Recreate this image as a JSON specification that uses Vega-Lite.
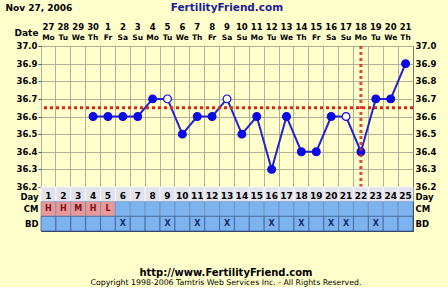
{
  "$schema": "https://vega.github.io/schema/vega-lite/v6.json",
  "background": "#ffffcc",
  "padding": {"left": 5, "right": 5, "top": 2, "bottom": 0},
  "spacing": 0,
  "bounds": "flush",
  "datasets": {
    "days": [
      {"day": 1, "date": "27", "dow": "Mo", "cm": "H", "bd": ""},
      {"day": 2, "date": "28", "dow": "Tu", "cm": "H", "bd": ""},
      {"day": 3, "date": "29", "dow": "We", "cm": "M", "bd": ""},
      {"day": 4, "date": "30", "dow": "Th", "cm": "H", "bd": ""},
      {"day": 5, "date": "1", "dow": "Fr", "cm": "L", "bd": ""},
      {"day": 6, "date": "2", "dow": "Sa", "cm": "", "bd": "X"},
      {"day": 7, "date": "3", "dow": "Su", "cm": "", "bd": ""},
      {"day": 8, "date": "4", "dow": "Mo", "cm": "", "bd": ""},
      {"day": 9, "date": "5", "dow": "Tu", "cm": "", "bd": "X"},
      {"day": 10, "date": "6", "dow": "We", "cm": "", "bd": ""},
      {"day": 11, "date": "7", "dow": "Th", "cm": "", "bd": "X"},
      {"day": 12, "date": "8", "dow": "Fr", "cm": "", "bd": ""},
      {"day": 13, "date": "9", "dow": "Sa", "cm": "", "bd": "X"},
      {"day": 14, "date": "10", "dow": "Su", "cm": "", "bd": ""},
      {"day": 15, "date": "11", "dow": "Mo", "cm": "", "bd": ""},
      {"day": 16, "date": "12", "dow": "Tu", "cm": "", "bd": "X"},
      {"day": 17, "date": "13", "dow": "We", "cm": "", "bd": ""},
      {"day": 18, "date": "14", "dow": "Th", "cm": "", "bd": "X"},
      {"day": 19, "date": "15", "dow": "Fr", "cm": "", "bd": ""},
      {"day": 20, "date": "16", "dow": "Sa", "cm": "", "bd": "X"},
      {"day": 21, "date": "17", "dow": "Su", "cm": "", "bd": "X"},
      {"day": 22, "date": "18", "dow": "Mo", "cm": "", "bd": ""},
      {"day": 23, "date": "19", "dow": "Tu", "cm": "", "bd": "X"},
      {"day": 24, "date": "20", "dow": "We", "cm": "", "bd": ""},
      {"day": 25, "date": "21", "dow": "Th", "cm": "", "bd": ""}
    ],
    "temps": [
      {"day": 4, "temp": 36.6, "kind": "normal"},
      {"day": 5, "temp": 36.6, "kind": "normal"},
      {"day": 6, "temp": 36.6, "kind": "normal"},
      {"day": 7, "temp": 36.6, "kind": "normal"},
      {"day": 8, "temp": 36.7, "kind": "normal"},
      {"day": 9, "temp": 36.7, "kind": "open"},
      {"day": 10, "temp": 36.5, "kind": "normal"},
      {"day": 11, "temp": 36.6, "kind": "normal"},
      {"day": 12, "temp": 36.6, "kind": "normal"},
      {"day": 13, "temp": 36.7, "kind": "open"},
      {"day": 14, "temp": 36.5, "kind": "normal"},
      {"day": 15, "temp": 36.6, "kind": "normal"},
      {"day": 16, "temp": 36.3, "kind": "normal"},
      {"day": 17, "temp": 36.6, "kind": "normal"},
      {"day": 18, "temp": 36.4, "kind": "normal"},
      {"day": 19, "temp": 36.4, "kind": "normal"},
      {"day": 20, "temp": 36.6, "kind": "normal"},
      {"day": 21, "temp": 36.6, "kind": "open"},
      {"day": 22, "temp": 36.4, "kind": "normal"},
      {"day": 23, "temp": 36.7, "kind": "normal"},
      {"day": 24, "temp": 36.7, "kind": "normal"},
      {"day": 25, "temp": 36.9, "kind": "normal"}
    ]
  },
  "title": {
    "text": "http://www.FertilityFriend.com",
    "subtitle": "Copyright 1998-2006 Tamtris Web Services Inc. - All Rights Reserved.",
    "orient": "bottom",
    "anchor": "middle",
    "frame": "bounds",
    "offset": 36,
    "font": "DejaVu Sans",
    "fontSize": 10,
    "fontWeight": "bold",
    "color": "#000000",
    "subtitleFont": "DejaVu Sans",
    "subtitleFontSize": 7.8,
    "subtitleColor": "#000000",
    "subtitlePadding": 1
  },
  "vconcat": [
    {
      "width": 372,
      "height": 44,
      "view": {"stroke": null},
      "data": {"name": "days"},
      "layer": [
        {
          "mark": {"type": "text", "baseline": "middle", "dy": -8, "fontSize": 8.5},
          "encoding": {
            "x": {"field": "day", "type": "ordinal", "scale": {"domain": [1,2,3,4,5,6,7,8,9,10,11,12,13,14,15,16,17,18,19,20,21,22,23,24,25], "paddingInner": 0, "paddingOuter": 0}, "axis": null},
            "y": {"datum": "Date", "type": "nominal", "scale": {"type": "band", "domain": ["top", "Date"], "paddingInner": 0, "paddingOuter": 0},
                  "axis": {"orient": "left", "title": null, "ticks": false, "labelPadding": 3, "labelOffset": -2, "labelExpr": "datum.value == 'Date' ? 'Date' : ''", "minExtent": 33, "maxExtent": 33}},
            "text": {"field": "date"}
          }
        },
        {
          "mark": {"type": "text", "baseline": "middle", "dy": 3, "fontSize": 7.5},
          "encoding": {
            "x": {"field": "day", "type": "ordinal", "axis": null},
            "y": {"datum": "Date", "type": "nominal"},
            "text": {"field": "dow"}
          }
        },
        {
          "data": {"values": [{"day": 1, "label": "Nov 27, 2006"}]},
          "mark": {"type": "text", "align": "left", "baseline": "middle", "dx": -43, "dy": -5},
          "encoding": {
            "x": {"field": "day", "type": "ordinal", "axis": null},
            "y": {"datum": "top", "type": "nominal"},
            "text": {"field": "label"}
          }
        },
        {
          "data": {"values": [{"day": 13, "label": "FertilityFriend.com"}]},
          "mark": {"type": "text", "align": "center", "baseline": "middle", "dy": -5, "color": "#1c1c9c", "fontSize": 10.5},
          "encoding": {
            "x": {"field": "day", "type": "ordinal", "axis": null},
            "y": {"datum": "top", "type": "nominal"},
            "text": {"field": "label"}
          }
        }
      ]
    },
    {
      "width": 372,
      "height": 141,
      "data": {"name": "temps"},
      "layer": [
        {
          "mark": {"type": "line", "color": "#2222d4", "strokeWidth": 2},
          "encoding": {
            "x": {"field": "day", "type": "ordinal", "scale": {"domain": [1,2,3,4,5,6,7,8,9,10,11,12,13,14,15,16,17,18,19,20,21,22,23,24,25], "paddingInner": 0, "paddingOuter": 0},
                  "axis": {"orient": "top", "labels": false, "ticks": false, "domain": false, "grid": true, "bandPosition": 0, "title": null}},
            "y": {"field": "temp", "type": "quantitative", "scale": {"domain": [36.2, 37.0], "nice": false, "zero": false},
                  "axis": {"orient": "left", "values": [36.2, 36.3, 36.4, 36.5, 36.6, 36.7, 36.8, 36.9, 37.0], "format": ".1f", "title": null, "grid": true, "tickSize": 3, "labelPadding": 1, "labelFontSize": 8.5, "labelOffset": -0.5, "minExtent": 33, "maxExtent": 33}}
          }
        },
        {
          "mark": {"type": "point", "shape": "circle", "size": 60, "strokeWidth": 1.2, "stroke": "#0a0ae6", "opacity": 1},
          "encoding": {
            "x": {"field": "day", "type": "ordinal",
                  "axis": {"orient": "top", "labels": false, "ticks": false, "domain": false, "grid": true, "bandPosition": 0, "title": null}},
            "y": {"field": "temp", "type": "quantitative",
                  "axis": {"orient": "right", "values": [36.2, 36.3, 36.4, 36.5, 36.6, 36.7, 36.8, 36.9, 37.0], "format": ".1f", "title": null, "grid": false, "ticks": false, "labelPadding": 2, "labelFontSize": 8.5, "labelOffset": -0.5, "minExtent": 33, "maxExtent": 33}},
            "fill": {"condition": {"test": "datum.kind == 'open'", "value": "#ffffff"}, "value": "#0a0ae6"}
          }
        },
        {
          "data": {"values": [{"cover": 36.65}]},
          "mark": {"type": "rule", "color": "#d42a1e", "strokeWidth": 3, "strokeDash": [3, 3]},
          "encoding": {"y": {"field": "cover", "type": "quantitative", "axis": null}}
        },
        {
          "data": {"values": [{"ovday": 22}]},
          "mark": {"type": "rule", "color": "#d42a1e", "strokeWidth": 3, "strokeDash": [3, 3], "opacity": 0.85},
          "encoding": {"x": {"field": "ovday", "type": "ordinal",
                  "axis": {"orient": "top", "labels": false, "ticks": false, "domain": false, "grid": true, "bandPosition": 0, "title": null}}}
        }
      ],
      "resolve": {"axis": {"y": "independent"}}
    },
    {
      "width": 372,
      "height": 44,
      "view": {"stroke": "#2a3a60"},
      "data": {"name": "days"},
      "layer": [
        {
          "mark": {"type": "rect", "fill": "#e2e2ec", "stroke": "#f4f4fa", "strokeWidth": 1},
          "encoding": {
            "x": {"field": "day", "type": "ordinal", "scale": {"domain": [1,2,3,4,5,6,7,8,9,10,11,12,13,14,15,16,17,18,19,20,21,22,23,24,25], "paddingInner": 0, "paddingOuter": 0}, "axis": null},
            "y": {"datum": "Day", "type": "nominal", "scale": {"type": "band", "domain": ["Day", "CM", "BD"], "paddingInner": 0, "paddingOuter": 0},
                  "axis": {"orient": "left", "title": null, "ticks": false, "labelPadding": 3, "domain": false, "labelFontSize": 8.5, "labelOffset": 2.5, "labelExpr": "datum.value == 'Day' ? 'Day' : ''", "minExtent": 33, "maxExtent": 33}}
          }
        },
        {
          "mark": {"type": "rect", "stroke": "#5f86bc", "strokeWidth": 0.6},
          "encoding": {
            "x": {"field": "day", "type": "ordinal", "axis": null},
            "y": {"datum": "CM", "type": "nominal",
                  "axis": {"orient": "left", "title": null, "ticks": false, "labelPadding": 3, "domain": false, "labelFontSize": 8.5, "labelExpr": "datum.value == 'Day' ? '' : datum.value", "minExtent": 33, "maxExtent": 33}},
            "fill": {"condition": {"test": "datum.cm != ''", "value": "#e89a9a"}, "value": "#7db3ee"}
          }
        },
        {
          "mark": {"type": "rect", "fill": "#7db3ee", "stroke": "#3f5f94", "strokeWidth": 0.8},
          "encoding": {
            "x": {"field": "day", "type": "ordinal", "axis": null},
            "y": {"datum": "BD", "type": "nominal", "axis": null}
          }
        },
        {
          "mark": {"type": "text", "color": "#000000", "dy": 2},
          "encoding": {
            "x": {"field": "day", "type": "ordinal", "axis": null},
            "y": {"datum": "Day", "type": "nominal",
                  "axis": {"orient": "right", "title": null, "ticks": false, "labelPadding": 2, "domain": false, "labelFontSize": 8.5, "labelOffset": 2.5, "labelExpr": "datum.value == 'Day' ? 'Day' : ''", "minExtent": 33, "maxExtent": 33}},
            "text": {"field": "day"}
          }
        },
        {
          "mark": {"type": "text", "color": "#7a1010", "fontSize": 8},
          "encoding": {
            "x": {"field": "day", "type": "ordinal", "axis": null},
            "y": {"datum": "CM", "type": "nominal",
                  "axis": {"orient": "right", "title": null, "ticks": false, "labelPadding": 2, "domain": false, "labelFontSize": 8.5, "labelExpr": "datum.value == 'Day' ? '' : datum.value", "minExtent": 33, "maxExtent": 33}},
            "text": {"field": "cm"}
          }
        },
        {
          "mark": {"type": "text", "color": "#1a2a6a", "fontSize": 8},
          "encoding": {
            "x": {"field": "day", "type": "ordinal", "axis": null},
            "y": {"datum": "BD", "type": "nominal", "axis": null},
            "text": {"field": "bd"}
          }
        }
      ],
      "resolve": {"axis": {"y": "independent"}}
    }
  ],
  "config": {
    "font": "DejaVu Sans",
    "view": {"stroke": "#707070"},
    "axis": {"labelFont": "DejaVu Sans", "labelFontWeight": "bold", "labelFontSize": 9, "labelColor": "#000000", "gridColor": "#b0b098", "gridOpacity": 1, "gridWidth": 1, "tickColor": "#555555", "domain": false},
    "text": {"font": "DejaVu Sans", "fontWeight": "bold", "fontSize": 9, "color": "#000000"}
  }
}
